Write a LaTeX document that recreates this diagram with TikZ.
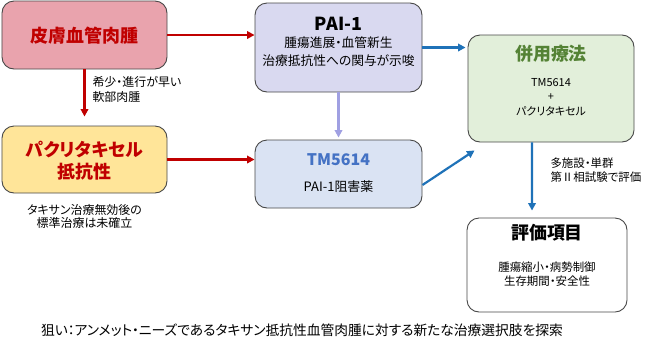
\documentclass[tikz,border=0pt]{standalone}
\usepackage{fontspec}
\setmainfont[RawFeature=+palt]{Noto Sans CJK JP}
\usetikzlibrary{
    arrows.meta,
    positioning
}

\definecolor{skinfill}{RGB}{233,163,173}
\definecolor{darkred}{RGB}{192,0,0}
\definecolor{ptxfill}{RGB}{255,229,153}
\definecolor{paifill}{RGB}{217,217,240}
\definecolor{tmfill}{RGB}{218,227,243}
\definecolor{tmblue}{RGB}{68,114,196}
\definecolor{combofill}{RGB}{226,239,218}
\definecolor{combogreen}{RGB}{84,130,53}
\definecolor{arrowblue}{RGB}{31,114,184}
\definecolor{arrowpurple}{RGB}{160,160,226}
\definecolor{boxline}{RGB}{72,72,72}

\tikzset{
    box/.style={draw=boxline, line width=0.9bp, rounded corners=12bp, inner sep=0pt},
    bigtitle/.style={font=\bfseries\fontsize{18}{22}\selectfont, align=center},
    bodytext/.style={font=\fontsize{12.8}{18}\selectfont, align=center},
    smalltext/.style={font=\fontsize{11}{14.5}\selectfont, align=center},
    notetext/.style={font=\fontsize{12}{15}\selectfont, align=left, anchor=west},
    redarrow/.style={draw=darkred, line width=2.2bp, -{Triangle[length=7.5bp,width=7.5bp]}},
    bluearrow/.style={draw=arrowblue, line width=2.2bp, -{Triangle[length=7.5bp,width=7.5bp]}},
    purplearrow/.style={draw=arrowpurple, line width=2.2bp, -{Triangle[length=7.5bp,width=7.5bp]}}
}

\begin{document}
\begin{tikzpicture}[x=1bp,y=-1bp]
\useasboundingbox (0,0) rectangle (649,352);

% Boites
\node[box, fill=skinfill, minimum width=165bp, minimum height=68bp] (skin) at (84.5,35) {};
\node[box, fill=ptxfill, minimum width=165bp, minimum height=67bp] (ptx) at (84.5,159.5) {};
\node[box, fill=paifill, minimum width=167bp, minimum height=89bp] (pai) at (338.5,47.5) {};
\node[box, fill=tmfill, minimum width=167bp, minimum height=68bp] (tm) at (338.5,174) {};
\node[box, fill=combofill, minimum width=166bp, minimum height=107bp] (combo) at (551,88.5) {};
\node[box, fill=white, minimum width=160bp, minimum height=94bp] (eval) at (547,265) {};

% Textes des boites
\node[bigtitle, text=darkred] (skinT) at (84.5,36) {皮膚血管肉腫};
\node[bigtitle, text=darkred] (ptxT) at (84.5,161) {パクリタキセル\\抵抗性};
\node[font=\bfseries\fontsize{18}{20}\selectfont] (paiT) at (338.5,24) {PAI-1};
\node[bodytext] (paiB) at (338.5,52) {腫瘍進展・血管新生\\治療抵抗性への関与が示唆};
\node[font=\bfseries\fontsize{16}{18}\selectfont, text=tmblue] (tmT) at (338.5,160) {TM5614};
\node[bodytext, font=\fontsize{13}{16}\selectfont] (tmB) at (338.5,186.5) {PAI-1阻害薬};
\node[bigtitle, text=combogreen] (comboT) at (551,54) {併用療法};
\node[smalltext] (comboB) at (551,97) {TM5614\\+\\パクリタキセル};
\node[bigtitle] (evalT) at (547,233) {評価項目};
\node[smalltext, font=\fontsize{11.5}{14}\selectfont] (evalB) at (547,274) {腫瘍縮小・病勢制御\\生存期間・安全性};

% Annotations
\node[notetext] (skinN) at (89,89.5) {希少・進行が早い\\軟部肉腫};
\node[smalltext, font=\fontsize{12}{13.5}\selectfont] (ptxN) at (84.5,216.5) {タキサン治療無効後の\\標準治療は未確立};
\node[notetext, font=\fontsize{11.5}{14}\selectfont] (trialN) at (547,170) {多施設・単群\\第Ⅱ相試験で評価};
\node[font=\fontsize{13.8}{16}\selectfont] (aim) at (302,330) {狙い：アンメット・ニーズであるタキサン抵抗性血管肉腫に対する新たな治療選択肢を探索};

% Fleches
\draw[redarrow] (skin.east) -- (skin.east -| pai.west);
\draw[redarrow, shorten >=9bp] (skin.south) -- (ptx.north);
\draw[redarrow] (ptx.east) -- (ptx.east -| tm.west);
\draw[purplearrow, shorten >=2bp] (pai.south) -- (tm.north);
\draw[bluearrow, shorten >=2bp] (pai.east) -- (pai.east -| combo.west);
\draw[bluearrow] ([yshift=-11bp]tm.east) -- ([xshift=7bp,yshift=-8bp]combo.south west);
\draw[bluearrow, shorten >=7bp] ([xshift=-19bp]combo.south) -- ([xshift=-15bp]eval.north);

\end{tikzpicture}
\end{document}
